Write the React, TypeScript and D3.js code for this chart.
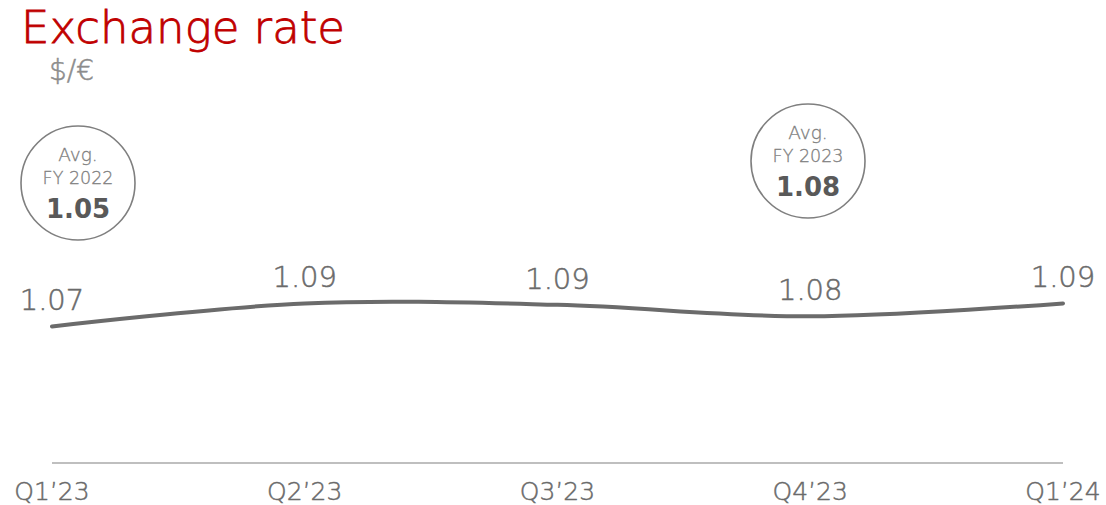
import React from "react";
import * as d3 from "d3";

const categories = ["Q1\u201923", "Q2\u201923", "Q3\u201923", "Q4\u201923", "Q1\u201924"];
const values = [1.073, 1.089, 1.088, 1.08, 1.089];
const valueLabels = ["1.07", "1.09", "1.09", "1.08", "1.09"];
const avgLabels = [
  { period: "FY 2022", value: "1.05" },
  { period: "FY 2023", value: "1.08" },
];

const W = 1106;
const H = 505;
const FONT = "'DejaVu Sans', sans-serif";

export default function App() {
  const x = d3.scalePoint<string>().domain(categories).range([52, 1063]);
  const y = d3.scaleLinear().domain([0.978, 1.1]).range([463, 287.6]);
  const line = d3
    .line<number>()
    .x((_, i) => x(categories[i]) as number)
    .y((d) => y(d))
    .curve(d3.curveCatmullRom.alpha(0.5));

  const circles = [
    { cx: 78, cy: 183, r: 57 },
    { cx: 808, cy: 161, r: 57 },
  ];

  const thin = (color: string, w: number) => ({ fill: color, stroke: color, strokeWidth: w, fontWeight: 300 });

  return (
    <div style={{ position: "absolute", left: 0, top: 0 }}>
      <svg width={W} height={H} style={{ display: "block", fontFamily: FONT }}>
        <rect width={W} height={H} fill="#ffffff" />
        <text x={21} y={43} fontSize={45} {...thin("#C00000", 0.8)}>
          Exchange rate
        </text>
        <text x={49} y={80} fontSize={28} {...thin("#8c8c8c", 0.5)}>
          $/€
        </text>

        {circles.map((c, i) => (
          <g key={i}>
            <circle cx={c.cx} cy={c.cy} r={c.r} fill="none" stroke="#7f7f7f" strokeWidth={1.6} />
            <text x={c.cx} y={c.cy - 22} textAnchor="middle" fontSize={18.5} {...thin("#808080", 0.3)}>
              Avg.
            </text>
            <text x={c.cx} y={c.cy + 1} textAnchor="middle" fontSize={17.5} {...thin("#808080", 0.3)}>
              {avgLabels[i].period}
            </text>
            <text x={c.cx} y={c.cy + 35} textAnchor="middle" fill="#595959" fontSize={26} fontWeight="bold">
              {avgLabels[i].value}
            </text>
          </g>
        ))}

        <line x1={52} x2={1063} y1={463} y2={463} stroke="#bfbfbf" strokeWidth={2} />
        {categories.map((c) => (
          <text key={c} x={x(c)} y={500} textAnchor="middle" fontSize={25} {...thin("#6a6a6a", 0.45)}>
            {c}
          </text>
        ))}

        <path d={line(values) || ""} fill="none" stroke="#6b6b6b" strokeWidth={4} strokeLinecap="round" />

        {values.map((v, i) => (
          <text
            key={i}
            x={x(categories[i])}
            y={y(v) - 16}
            textAnchor="middle"
            fontSize={29}
            {...thin("#6a6a6a", 0.5)}
          >
            {valueLabels[i]}
          </text>
        ))}
      </svg>
    </div>
  );
}
